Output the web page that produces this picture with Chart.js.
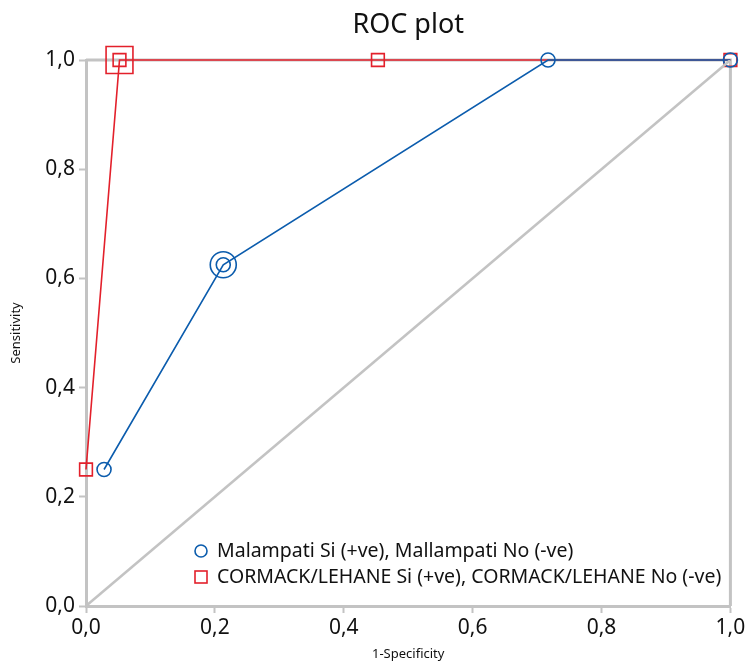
<!DOCTYPE html>
<html>
<head>
<meta charset="utf-8">
<script src="https://cdn.jsdelivr.net/npm/chart.js@4"></script>
<style>
  html, body { margin: 0; padding: 0; background: #fff; }
  #wrap { width: 751px; height: 662px; }
</style>
</head>
<body>
<div id="wrap"><canvas id="roc-chart" width="751" height="662"></canvas></div>
<script>
// data
var malampatiX = [0.028, 0.213, 0.717, 1.0];
var malampatiY = [0.25, 0.625, 1.0, 1.0];
var malampatiBest = 1;
var cormackX = [0.0, 0.052, 0.453, 1.0];
var cormackY = [0.25, 1.0, 1.0, 1.0];
var cormackBest = 1;
var tickValues = [0, 0.2, 0.4, 0.6, 0.8, 1.0];
var chartTitle = "ROC plot";
var seriesNames = ["Malampati Si (+ve), Mallampati No (-ve)", "CORMACK/LEHANE Si (+ve), CORMACK/LEHANE No (-ve)"];

var BLUE = "#0b5cad";
var RED = "#e3202b";
var GREY = "#c3c3c3";
var FONT = "'Noto Sans', 'Open Sans', sans-serif";

function pts(xs, ys) {
    return xs.map(function (x, i) { return { x: x, y: ys[i] }; });
}

// title over plot area, right + top frame lines, legend inside the plot
const framePlugin = {
    id: "frame",
    beforeDatasetsDraw(chart) {
        const c = chart.ctx, a = chart.chartArea;
        c.save();
        c.strokeStyle = GREY;
        c.lineWidth = 3;
        c.beginPath();
        c.moveTo(a.left, a.top);
        c.lineTo(a.right, a.top);
        c.lineTo(a.right, a.bottom);
        c.stroke();
        c.restore();
    },
    afterDraw(chart) {
        const c = chart.ctx, a = chart.chartArea;
        c.save();
        c.fillStyle = "#111";
        c.font = "27px " + FONT;
        c.textAlign = "center";
        c.textBaseline = "middle";
        c.fillText(chartTitle, (a.left + a.right) / 2, 25);

        const x = 201, y0 = 551, gap = 26;
        c.lineWidth = 1.6;
        c.strokeStyle = BLUE;
        c.beginPath();
        c.arc(x, y0, 6, 0, Math.PI * 2);
        c.stroke();
        c.strokeStyle = RED;
        c.strokeRect(x - 6, y0 + gap - 6, 12, 12);
        c.fillStyle = "#111";
        c.font = "19.5px " + FONT;
        c.textAlign = "left";
        c.fillText(seriesNames[0], x + 16, y0);
        c.fillText(seriesNames[1], x + 16, y0 + gap);
        c.restore();
    }
};

const ctx = document.getElementById("roc-chart");
const rocChart = new Chart(ctx, {
    type: "scatter",
    data: {
        datasets: [
            {
                label: "diagonal",
                data: [{ x: 0, y: 0 }, { x: 1, y: 1 }],
                showLine: true,
                borderColor: GREY,
                borderWidth: 2.5,
                pointRadius: 0
            },
            {
                label: seriesNames[0],
                data: pts(malampatiX, malampatiY),
                showLine: true,
                clip: false,
                borderColor: BLUE,
                borderWidth: 1.6,
                pointStyle: "circle",
                pointRadius: 7,
                pointBorderWidth: 1.6,
                pointBackgroundColor: "rgba(0,0,0,0)",
                pointBorderColor: BLUE
            },
            {
                label: "malampati best",
                data: [{ x: malampatiX[malampatiBest], y: malampatiY[malampatiBest] }],
                clip: false,
                pointStyle: "circle",
                pointRadius: 13,
                pointBorderWidth: 1.6,
                pointBackgroundColor: "rgba(0,0,0,0)",
                pointBorderColor: BLUE
            },
            {
                label: seriesNames[1],
                data: pts(cormackX, cormackY),
                showLine: true,
                clip: false,
                borderColor: RED,
                borderWidth: 1.6,
                pointStyle: "rect",
                pointRadius: 9,
                pointBorderWidth: 1.6,
                pointBackgroundColor: "rgba(0,0,0,0)",
                pointBorderColor: RED
            },
            {
                label: "cormack best",
                data: [{ x: cormackX[cormackBest], y: cormackY[cormackBest] }],
                clip: false,
                pointStyle: "rect",
                pointRadius: 19,
                pointBorderWidth: 1.6,
                pointBackgroundColor: "rgba(0,0,0,0)",
                pointBorderColor: RED
            }
        ]
    },
    options: {
        responsive: false,
        animation: false,
        layout: { padding: { left: 8, right: 18, top: 60, bottom: 0 } },
        plugins: {
            legend: { display: false },
            tooltip: { enabled: false },
            title: { display: false }
        },
        scales: {
            x: {
                type: "linear",
                min: 0,
                max: 1,
                afterBuildTicks: function (s) { s.ticks = tickValues.map(function (v) { return { value: v }; }); },
                afterFit: function (s) { s.height = 56; s.paddingRight = 0; },
                grid: { display: true, drawOnChartArea: false, drawTicks: true, tickLength: 7, tickWidth: 2, color: GREY },
                border: { display: true, color: GREY, width: 3 },
                ticks: {
                    color: "#111",
                    padding: 2,
                    font: { family: FONT, size: 21 },
                    maxRotation: 0,
                    callback: function (v) { return v.toFixed(1).replace(".", ","); }
                },
                title: { display: true, text: "1-Specificity", color: "#111", font: { family: FONT, size: 13 }, padding: 0 }
            },
            y: {
                type: "linear",
                min: 0,
                max: 1,
                afterBuildTicks: function (s) { s.ticks = tickValues.map(function (v) { return { value: v }; }); },
                afterFit: function (s) { s.width = 78; },
                grid: { display: true, drawOnChartArea: false, drawTicks: true, tickLength: 7, tickWidth: 2, color: GREY },
                border: { display: true, color: GREY, width: 3 },
                ticks: {
                    color: "#111",
                    padding: 4,
                    font: { family: FONT, size: 21 },
                    callback: function (v) { return v.toFixed(1).replace(".", ","); }
                },
                title: { display: true, text: "Sensitivity", color: "#111", font: { family: FONT, size: 13 }, padding: { top: 0, bottom: 2 } }
            }
        }
    },
    plugins: [framePlugin]
});
</script>
</body>
</html>
